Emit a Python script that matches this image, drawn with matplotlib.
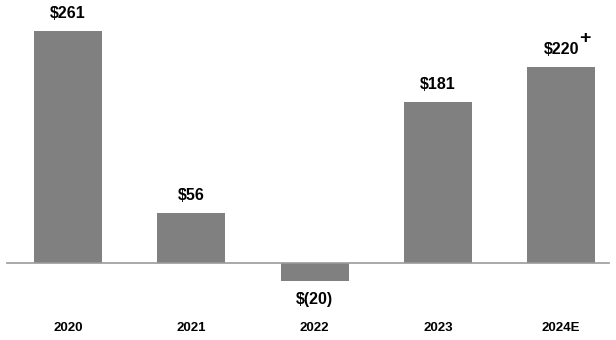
import matplotlib.pyplot as plt

years = ["2020", "2021", "2022", "2023", "2024E"]
values = [261, 56, -20, 181, 220]
labels = ["$261", "$56", "$(20)", "$181", "$220"]

plt.rcParams['font.family'] = ['Liberation Sans Narrow', 'Liberation Sans', 'DejaVu Sans']

fig = plt.figure(figsize=(6.16, 3.4), dpi=100)
ax = fig.add_axes([0, 0, 1, 1])
x = list(range(len(years)))
ax.bar(x, values, width=0.55, color="#808080")
ax.plot([-0.495, 4.39], [0, 0], color="#9a9a9a", lw=1.2)

for i, (v, lab) in enumerate(zip(values, labels)):
    y = v + 20 if v >= 0 else v - 21
    ax.text(i, y, lab, ha="center", va="center", fontsize=11.5, fontweight="bold")
    ax.text(i, -73.6, years[i], ha="center", va="center", fontsize=9.5, fontweight="bold")

# plus sign on the estimate
ax.text(4.19, 252, "+", ha="center", va="center", fontsize=14, fontweight="bold")

ax.set_xlim(-0.551, 4.444)
ax.set_ylim(-86.6, 295.8)
ax.axis("off")
fig.savefig("out.png", dpi=100)
